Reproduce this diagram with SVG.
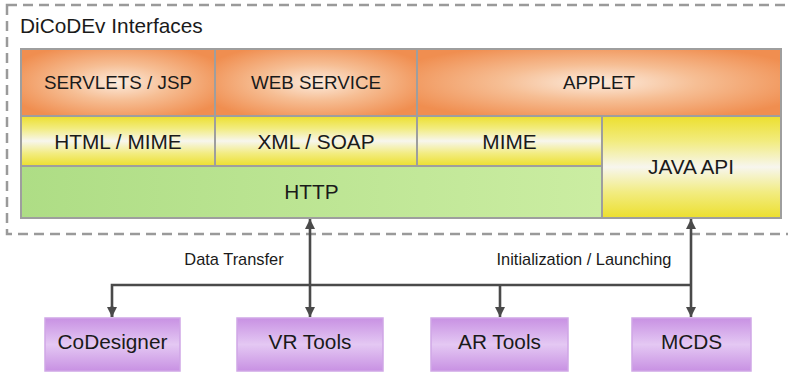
<svg xmlns="http://www.w3.org/2000/svg" width="788" height="373" viewBox="0 0 788 373">
<defs>
<radialGradient id="gOr" cx="0.5" cy="0.5" r="0.6" fx="0.5" fy="0.5">
<stop offset="0" stop-color="#FCEBDD"/>
<stop offset="0.45" stop-color="#F6BE94"/>
<stop offset="1" stop-color="#F08E50"/>
</radialGradient>
<linearGradient id="gYe" x1="0" y1="0" x2="0" y2="1">
<stop offset="0" stop-color="#ECDF2E"/>
<stop offset="0.25" stop-color="#F2EC80"/>
<stop offset="0.5" stop-color="#F7F6EE"/>
<stop offset="0.75" stop-color="#F2EC80"/>
<stop offset="1" stop-color="#ECDF2E"/>
</linearGradient>
<linearGradient id="gGr" x1="0" y1="0" x2="1" y2="0">
<stop offset="0" stop-color="#AEDD85"/>
<stop offset="1" stop-color="#CBEDA2"/>
</linearGradient>
<linearGradient id="gPu" x1="0" y1="0" x2="0" y2="1">
<stop offset="0" stop-color="#C891E3"/>
<stop offset="0.5" stop-color="#E4C8F3"/>
<stop offset="1" stop-color="#C891E3"/>
</linearGradient>
<marker id="ah" viewBox="0 0 10 10" refX="10" refY="5" markerWidth="10" markerHeight="10" markerUnits="userSpaceOnUse" orient="auto-start-reverse">
<path d="M0,0 L10,5 L0,10 z" fill="#4A4A4A"/>
</marker>
<style>
.cell{stroke:#9E9E9E;stroke-width:2}
.or{fill:url(#gOr)}
.ye{fill:url(#gYe)}
.gr{fill:url(#gGr)}
.pu{fill:url(#gPu);stroke:#CFA6E6;stroke-width:1.5}
text{font-family:"Liberation Sans",Arial,sans-serif;fill:#1a1a1a;text-anchor:middle}
.t19{font-size:18.8px}
.t21{font-size:20.8px}
.lab{font-size:16.4px}
.con{stroke:#4A4A4A;stroke-width:2.6;fill:none}
</style>
</defs>
<g id="frame">
<rect x="7" y="5" width="800" height="229" fill="none" stroke="#9A9A9A" stroke-width="2.5" stroke-dasharray="10,6"/>
<text x="20" y="33" style="font-size:20.8px;text-anchor:start">DiCoDEv Interfaces</text>
</g>
<g id="servlets"><rect class="cell or" x="21" y="49" width="194" height="67"/><text class="t19" x="118" y="89">SERVLETS / JSP</text></g>
<g id="webservice"><rect class="cell or" x="215" y="49" width="202" height="67"/><text class="t19" x="316" y="89">WEB SERVICE</text></g>
<g id="applet"><rect class="cell or" x="417" y="49" width="364" height="67"/><text class="t19" x="599" y="89">APPLET</text></g>
<g id="htmlmime"><rect class="cell ye" x="21" y="116" width="194" height="50"/><text class="t21" x="118" y="149">HTML / MIME</text></g>
<g id="xmlsoap"><rect class="cell ye" x="215" y="116" width="202" height="50"/><text class="t21" x="316" y="149">XML / SOAP</text></g>
<g id="mime"><rect class="cell ye" x="417" y="116" width="185" height="50"/><text class="t21" x="509.5" y="149">MIME</text></g>
<g id="javaapi"><rect class="cell ye" x="602" y="116" width="179" height="102"/><text class="t21" x="691" y="174">JAVA API</text></g>
<g id="http"><rect class="cell gr" x="21" y="166" width="581" height="52"/><text class="t21" x="311.5" y="199">HTTP</text></g>
<g id="connectors">
<path class="con" d="M310,317 L310,219" marker-start="url(#ah)" marker-end="url(#ah)"/>
<path class="con" d="M691,317 L691,219" marker-start="url(#ah)" marker-end="url(#ah)"/>
<path class="con" d="M112,317 L112,285 L691,285"/>
<path class="con" d="M500,285 L500,317" marker-end="url(#ah)"/>
<path d="M112,306 L112,317" class="con" marker-end="url(#ah)"/>
<text class="lab" x="234" y="265">Data Transfer</text>
<text class="lab" x="584" y="265">Initialization / Launching</text>
</g>
<g id="codesigner"><rect class="pu" x="45" y="318" width="135" height="53"/><text class="t21" x="112.5" y="349">CoDesigner</text></g>
<g id="vrtools"><rect class="pu" x="237" y="318" width="146" height="53"/><text class="t21" x="310" y="349">VR Tools</text></g>
<g id="artools"><rect class="pu" x="431" y="318" width="137" height="53"/><text class="t21" x="499.5" y="349">AR Tools</text></g>
<g id="mcds"><rect class="pu" x="632" y="318" width="119" height="53"/><text class="t21" x="691.5" y="349">MCDS</text></g>
</svg>
